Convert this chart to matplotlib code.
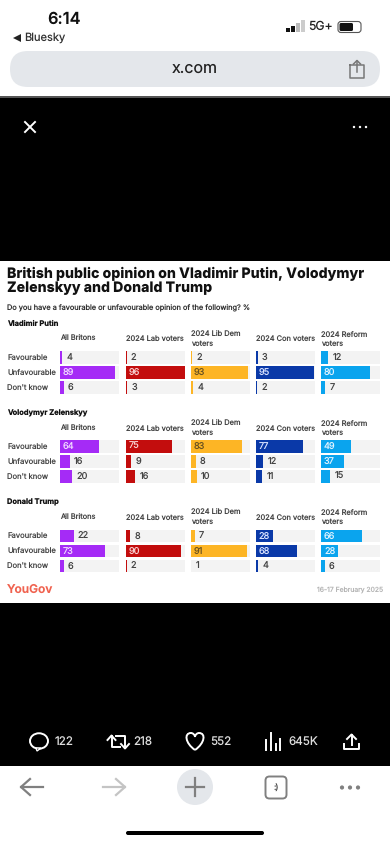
import matplotlib
matplotlib.use('Agg')
import matplotlib.pyplot as plt
from matplotlib.path import Path
from matplotlib.patches import Rectangle, FancyBboxPatch, Circle, Ellipse, Polygon, PathPatch

# Data
groups = ['All Britons', '2024 Lab voters', '2024 Lib Dem\nvoters', '2024 Con voters', '2024 Reform\nvoters']
rows = ['Favourable', 'Unfavourable', "Don't know"]
sections = ['Vladimir Putin', 'Volodymyr Zelenskyy', 'Donald Trump']
putin = [[4, 89, 6], [2, 96, 3], [2, 93, 4], [3, 95, 2], [12, 80, 7]]
zelenskyy = [[64, 16, 20], [75, 9, 16], [83, 8, 10], [77, 12, 11], [49, 37, 15]]
trump = [[22, 73, 6], [8, 90, 2], [7, 91, 1], [28, 68, 4], [66, 28, 6]]
section_values = [putin, zelenskyy, trump]
stats = ['122', '218', '552', '645K']

# Styles and layout, in screen pixels
colors = ['#A52BF6', '#C30D0D', '#FDB525', '#0A39A8', '#0AA4EE']
inside_text = ['#F0D8FF', '#F8D0D0', '#6B5320', '#D8E2FF', '#DDF2FF']
panel_x = [60, 125.5, 190.7, 255.7, 321]
panel_w = 59
section_top = [350, 439.3, 528.4]
section_title_y = [323.5, 413, 502.5]
row_h = 15
W, H = 390, 844
font = ['Inter', 'DejaVu Sans']

plt.rcParams['font.family'] = font
plt.rcParams['text.hinting'] = 'none'
fig = plt.figure(figsize=(W / 100, H / 100), dpi=100, facecolor='white')

# Screen layer in pixel coordinates
bg = fig.add_axes([0, 0, 1, 1], zorder=0)
bg.set_xlim(0, W)
bg.set_ylim(H, 0)
bg.axis('off')

bg.add_patch(Rectangle((0, 97), W, 164, color='black', lw=0))
bg.add_patch(Rectangle((0, 603), W, 163, color='black', lw=0))
bg.add_patch(Rectangle((0, 96), W, 1.5, color='#555555', lw=0))

# Status bar
bg.text(47, 19, '6:14', fontsize=11.8, fontweight='semibold', va='center', color='#111111')
bg.text(24, 38, 'Bluesky', fontsize=8, va='center', color='#333333')
bg.add_patch(Polygon([[13, 38], [21, 34], [21, 42]], color='#222222', lw=0))
for i, (h, c) in enumerate(zip([4, 6, 9, 12], ['#111111', '#111111', '#BBBBBB', '#CCCCCC'])):
    bg.add_patch(Rectangle((286 + i * 5, 32 - h), 3.6, h, color=c, lw=0))
bg.text(308, 27, '5G+', fontsize=8.8, va='center', color='#222222')
bg.add_patch(FancyBboxPatch((338, 21.5), 23, 11, boxstyle='round,pad=0,rounding_size=3', fc='white', ec='#555555', lw=0.8))
bg.add_patch(FancyBboxPatch((339.5, 23), 13.5, 8, boxstyle='round,pad=0,rounding_size=1.5', fc='#111111', ec='none'))

# Address bar
bg.add_patch(FancyBboxPatch((10, 51), 370, 36, boxstyle='round,pad=0,rounding_size=18', fc='#E4E7EB', ec='none'))
bg.text(195, 69, 'x.com', fontsize=11.5, ha='center', va='center', color='#222222')
bg.plot([350, 350, 364, 364, 350], [65, 78, 78, 65, 65], color='#777777', lw=1.1)
bg.plot([357, 357], [61, 72], color='#777777', lw=1.1)
bg.plot([353.5, 357, 360.5], [64, 60.5, 64], color='#777777', lw=1.1)

# Overlay controls
bg.plot([25, 35], [122, 132], color='white', lw=1.4)
bg.plot([25, 35], [132, 122], color='white', lw=1.4)
for x in [354, 360, 366]:
    bg.add_patch(Circle((x, 127), 1.2, color='white', lw=0))

# White chart card
bg.add_patch(Rectangle((0, 261), W, 342, color='white', lw=0))
bg.text(7, 273.5, 'British public opinion on Vladimir Putin, Volodymyr', fontsize=10.2, fontweight='heavy', va='center', color='#111111')
bg.text(7, 288.5, 'Zelenskyy and Donald Trump', fontsize=10.2, fontweight='heavy', va='center', color='#111111')
bg.text(7, 308, 'Do you have a favourable or unfavourable opinion of the following? %', fontsize=5.3, va='center', color='#333333')

for top, title_y, name in zip(section_top, section_title_y, sections):
    bg.text(7, title_y, name, fontsize=5.4, fontweight='bold', va='center', color='#111111')
    for i, row in enumerate(rows):
        bg.text(7, top + (i + 0.5) * row_h, row, fontsize=5.5, va='center', color='#444444')
    for x, group in zip(panel_x, groups):
        bg.text(x, top - 11, group, fontsize=5.35, va='center', linespacing=1.35, color='#444444')

bg.text(7, 590, 'YouGov', fontsize=8.6, va='center', color='#F0624F', fontweight='semibold')
bg.text(383, 590, '16-17 February 2025', fontsize=4.9, ha='right', va='center', color='#B5B5B5')

# Bars, one small axes per group and section
for top, values in zip(section_top, section_values):
    for x, group_values, color, in_color in zip(panel_x, values, colors, inside_text):
        ax = fig.add_axes([x / W, 1 - (top + 3 * row_h) / H, panel_w / W, 3 * row_h / H], zorder=2)
        ax.patch.set_alpha(0)
        ax.axis('off')
        ax.set_xlim(0, 96)
        ax.set_ylim(2.5, -0.5)
        ax.barh(range(3), [96] * 3, height=0.85, color='#F3F3F3', lw=0)
        ax.barh(range(3), group_values, height=0.85, color=color, lw=0)
        for i, v in enumerate(group_values):
            if v >= 28:
                ax.annotate(str(v), (0, i), xytext=(2.2, 0), textcoords='offset points', fontsize=6.6, va='center', color=in_color)
            else:
                ax.annotate(str(v), (v, i), xytext=(3, 0), textcoords='offset points', fontsize=6.6, va='center', color='#444444')

# Post actions
stat_x = [55, 133, 210, 288]
for x, s in zip(stat_x, stats):
    bg.text(x, 742, s, fontsize=8.4, va='center', color='#DDDDDD')
bg.add_patch(Ellipse((39, 741), 18, 15.5, fc='none', ec='white', lw=1.4))
bg.add_patch(Polygon([[36, 748], [41, 748], [37, 751]], fc='black', ec='white', lw=1))
# retweet arrows
bg.plot([111.5, 111.5, 120], [736, 747, 747], color='white', lw=1.4)
bg.plot([107.5, 111.5, 115.5], [740, 735.5, 740], color='white', lw=1.4)
bg.plot([116, 125, 125], [736, 736, 748], color='white', lw=1.4)
bg.plot([121, 125, 129], [744, 748.5, 744], color='white', lw=1.4)
# heart
heart = Path(
    [(195, 750), (185, 743), (184, 733), (191, 733),
     (193, 733), (195, 735), (195, 737),
     (195, 735), (197, 733), (199, 733),
     (206, 733), (205, 743), (195, 750)],
    [Path.MOVETO] + [Path.CURVE4] * 12)
bg.add_patch(PathPatch(heart, fc='none', ec='white', lw=1.4))
for x, h in zip([266, 271, 276, 280], [10, 17, 6, 11]):
    bg.plot([x, x], [750, 750 - h], color='white', lw=1.4)
bg.plot([344, 344, 359, 359], [744, 749, 749, 744], color='white', lw=1.4)
bg.plot([351.5, 351.5], [735, 745], color='white', lw=1.4)
bg.plot([347, 351.5, 356], [739, 734.5, 739], color='white', lw=1.4)

# Browser toolbar
bg.plot([21, 43], [787, 787], color='#808080', lw=1.6)
bg.plot([30, 21, 30], [779, 787, 795], color='#808080', lw=1.6)
bg.plot([103, 125], [787, 787], color='#C4C4C4', lw=1.6)
bg.plot([116, 125, 116], [779, 787, 795], color='#C4C4C4', lw=1.6)
bg.add_patch(Circle((195, 787), 18, fc='#E4E7EB', ec='none'))
bg.plot([186, 204], [787, 787], color='#808080', lw=1.6)
bg.plot([195, 195], [778, 796], color='#808080', lw=1.6)
bg.add_patch(FancyBboxPatch((265.5, 776.5), 21, 22, boxstyle='round,pad=0,rounding_size=4', fc='white', ec='#808080', lw=1.4))
bg.text(276, 787.5, ':)', fontsize=6, ha='center', va='center', color='#444444')
for x in [342, 350, 358]:
    bg.add_patch(Circle((x, 787.5), 2.1, color='#808080', lw=0))
bg.add_patch(FancyBboxPatch((126, 831), 138, 4, boxstyle='round,pad=0,rounding_size=2', fc='black', ec='none'))

fig.savefig('out.png', dpi=100)
plt.close(fig)
